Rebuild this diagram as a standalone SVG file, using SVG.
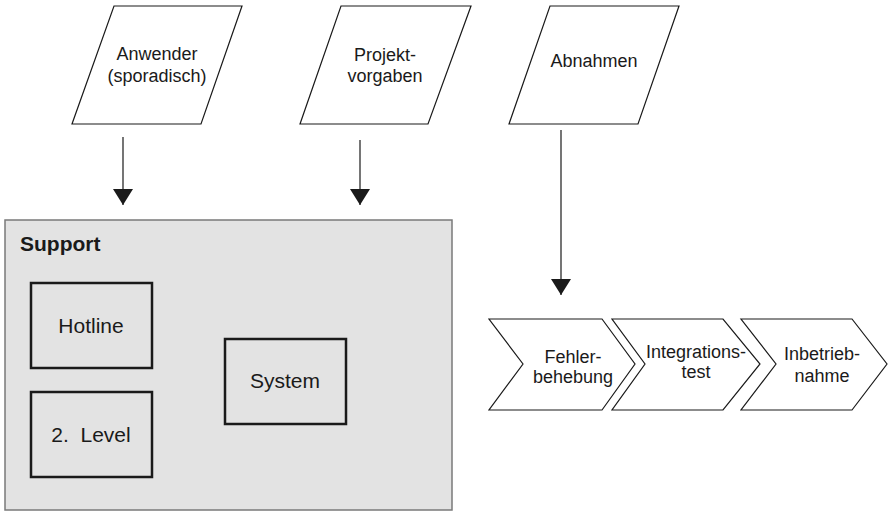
<svg xmlns="http://www.w3.org/2000/svg" width="888" height="512" viewBox="0 0 888 512">
  <style>
    text { font-family: "Liberation Sans", Arial, sans-serif; fill: #1a1a1a; text-anchor: middle; }
    .io { fill: #ffffff; stroke: #1a1a1a; stroke-width: 1.2; }
    .step { fill: #ffffff; stroke: #1a1a1a; stroke-width: 1.2; }
    .box { fill: none; stroke: #1a1a1a; stroke-width: 2.5; }
    .t18 { font-size: 18px; }
    .t21 { font-size: 21px; }
    .edge { stroke: #1a1a1a; stroke-width: 1.2; fill: none; marker-end: url(#head); }
  </style>
  <defs>
    <!-- filled triangular arrowhead, tip at the line end -->
    <marker id="head" markerWidth="16" markerHeight="20" refX="16" refY="10" orient="auto" markerUnits="userSpaceOnUse" viewBox="0 0 16 20">
      <path d="M0,0 L16,10 L0,20 Z" fill="#1a1a1a"/>
    </marker>
  </defs>

  <!-- input parallelograms -->
  <g id="anwender">
    <polygon class="io" points="114,6 242,6 201,124 72,124"/>
    <text class="t18" x="157" y="60">Anwender</text>
    <text class="t18" x="157" y="82">(sporadisch)</text>
  </g>
  <g id="projektvorgaben">
    <polygon class="io" points="341,6 471,6 428,124 300,124"/>
    <text class="t18" x="385" y="61">Projekt-</text>
    <text class="t18" x="385" y="82">vorgaben</text>
  </g>
  <g id="abnahmen">
    <polygon class="io" points="550,6 679,6 638,124 509,124"/>
    <text class="t18" x="594" y="67">Abnahmen</text>
  </g>

  <!-- support area -->
  <g id="support">
    <rect x="5" y="220" width="447" height="290" fill="#e3e3e3" stroke="#7a7a7a" stroke-width="1.5"/>
    <text x="20" y="251" font-size="21" font-weight="bold" style="text-anchor:start">Support</text>
  </g>
  <g id="hotline">
    <rect class="box" x="31" y="283" width="121" height="85"/>
    <text class="t21" x="91" y="333">Hotline</text>
  </g>
  <g id="level2">
    <rect class="box" x="31" y="392" width="121" height="85"/>
    <text class="t21" x="91" y="442" xml:space="preserve">2.  Level</text>
  </g>
  <g id="system">
    <rect class="box" x="225" y="339" width="121" height="85"/>
    <text class="t21" x="285" y="388">System</text>
  </g>

  <!-- process chevrons -->
  <g id="fehlerbehebung">
    <polygon class="step" points="489,319 602,319 635,364 602,410 489,410 523,364"/>
    <text class="t18" x="573" y="363">Fehler-</text>
    <text class="t18" x="573" y="383">behebung</text>
  </g>
  <g id="integrationstest">
    <polygon class="step" points="612,319 723,319 760,364 723,410 612,410 645,364"/>
    <text class="t18" x="696" y="358">Integrations-</text>
    <text class="t18" x="696" y="378">test</text>
  </g>
  <g id="inbetriebnahme">
    <polygon class="step" points="741,319 852,319 887,364 852,410 741,410 776,364"/>
    <text class="t18" x="822" y="360">Inbetrieb-</text>
    <text class="t18" x="822" y="382">nahme</text>
  </g>

  <!-- connectors -->
  <g id="connectors">
    <line class="edge" x1="123" y1="137" x2="123" y2="205"/>
    <line class="edge" x1="360" y1="140" x2="360" y2="205"/>
    <line class="edge" x1="561" y1="130" x2="561" y2="295"/>
  </g>
</svg>
